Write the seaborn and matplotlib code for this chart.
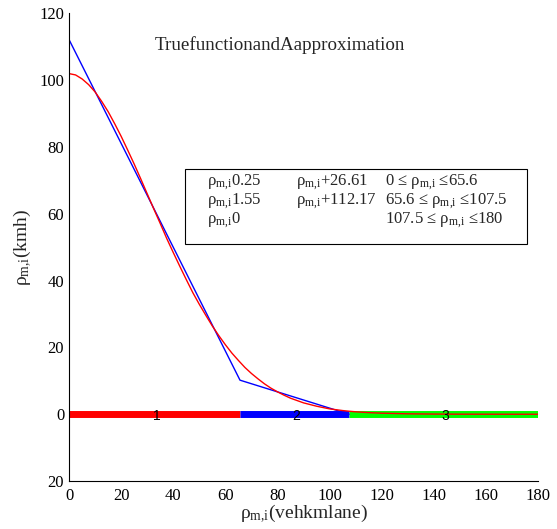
import numpy as np
import pandas as pd
import matplotlib
matplotlib.use("Agg")
import matplotlib.pyplot as plt
import seaborn as sns
from matplotlib.patches import Rectangle

# true function (red)
true_x = [0, 2.5, 5, 7.5, 10, 12.5, 15, 17.5, 20, 22.5, 25, 27.5, 30, 32.5,
          35, 37.5, 40, 42.5, 45, 47.5, 50, 52.5, 55, 57.5, 60, 62.5, 65,
          67.5, 70, 72.5, 75, 77.5, 80, 82.5, 85, 87.5, 90, 92.5, 95, 97.5,
          100, 102.5, 105, 107.5, 110, 115, 120, 130, 140, 150, 160, 170, 180]
true_y = [102.0, 101.6, 100.4, 98.7, 96.5, 93.7, 90.6, 87.0, 83.2, 79.1,
          74.9, 70.5, 66.0, 61.5, 57.1, 52.6, 48.4, 44.3, 40.3, 36.4, 32.9,
          29.6, 26.4, 23.5, 20.8, 18.3, 16.1, 14.0, 12.2, 10.6, 9.1, 7.8,
          6.7, 5.7, 4.8, 4.1, 3.4, 2.9, 2.4, 2.0, 1.6, 1.35, 1.1, 0.9, 0.73,
          0.48, 0.31, 0.12, 0.05, 0.02, 0.01, 0.0, 0.0]

# piecewise linear approximation (blue)
approx_x = [0, 65.6, 107.5]
approx_y = [112.17, 10.2, 0.0]

# regions along the axis
region_edges = [0, 65.6, 107.5, 180]
region_colors = ["#ff0000", "#0000ff", "#00ff00"]
region_labels = ["1", "2", "3"]

yticks = [-20, 0, 20, 40, 60, 80, 100, 120]
ytick_labels = ["20", "0", "20", "40", "60", "80", "100", "120"]
xticks = [0, 20, 40, 60, 80, 100, 120, 140, 160, 180]

sub = "$_{m{,}i}$"
legend_rows = [
    ["ρ" + sub + "0.25", "ρ" + sub + "+26.61", "0 ≤ ρ" + sub + " ≤65.6"],
    ["ρ" + sub + "1.55", "ρ" + sub + "+112.17", "65.6 ≤ ρ" + sub + " ≤107.5"],
    ["ρ" + sub + "0", "", "107.5 ≤ ρ" + sub + " ≤180"],
]

sns.set_style("white")
plt.rcParams['font.family'] = ['Liberation Serif', 'DejaVu Serif']
plt.rcParams['mathtext.fontset'] = 'custom'
plt.rcParams['mathtext.rm'] = 'Liberation Serif'
plt.rcParams['mathtext.it'] = 'Liberation Serif'
plt.rcParams['mathtext.default'] = 'regular'

fig = plt.figure(figsize=(5.57, 5.29), dpi=100)
ax = fig.add_axes([0.124, 0.0907, 0.842, 0.8838])

# thick region bars at y=0
for i in range(3):
    seg = pd.DataFrame({"x": region_edges[i:i + 2], "y": [0, 0]})
    sns.lineplot(data=seg, x="x", y="y", color=region_colors[i], linewidth=5,
                 ax=ax, solid_capstyle="butt")
    mid = (region_edges[i] + region_edges[i + 1]) / 2
    ax.text(mid + 0.8, -0.5, region_labels[i], ha="center", va="center",
            fontsize=10, family=["Liberation Sans", "DejaVu Sans"],
            color="black", zorder=5)

sns.lineplot(x=approx_x, y=approx_y, color="blue", linewidth=1.0, ax=ax)
sns.lineplot(x=true_x, y=true_y, color="red", linewidth=1.0, ax=ax)

ax.set_xlim(0, 180)
ax.set_ylim(-20, 120)
ax.set_xticks(xticks)
ax.set_yticks(yticks)
ax.set_yticklabels(ytick_labels)
ax.tick_params(direction="in", length=4, width=0.8, labelsize=12, colors="black")
ax.tick_params(axis="x", pad=5)
for s in ["top", "right"]:
    ax.spines[s].set_visible(False)
for s in ["left", "bottom"]:
    ax.spines[s].set_color("black")
    ax.spines[s].set_linewidth(0.8)

ax.set_xlabel("ρ" + sub + "(vehkmlane)", fontsize=14, labelpad=-1)
ax.set_ylabel("ρ" + sub + "(kmh)", fontsize=14, labelpad=4)

ax.text(80.8, 110.5, "TruefunctionandAapproximation", ha="center", va="center",
        fontsize=13.7)

ax.add_patch(Rectangle((44.5, 51.0), 131.2, 22.5, fill=False, edgecolor="black",
                       linewidth=0.8, zorder=4))
col_x = [52.8, 87.1, 121.3]
row_y = [69.4, 63.8, 58.1]
for r, row in enumerate(legend_rows):
    for c, txt in enumerate(row):
        if txt:
            ax.text(col_x[c], row_y[r], txt, ha="left", va="center", fontsize=12)

fig.savefig("out.png", dpi=100)
